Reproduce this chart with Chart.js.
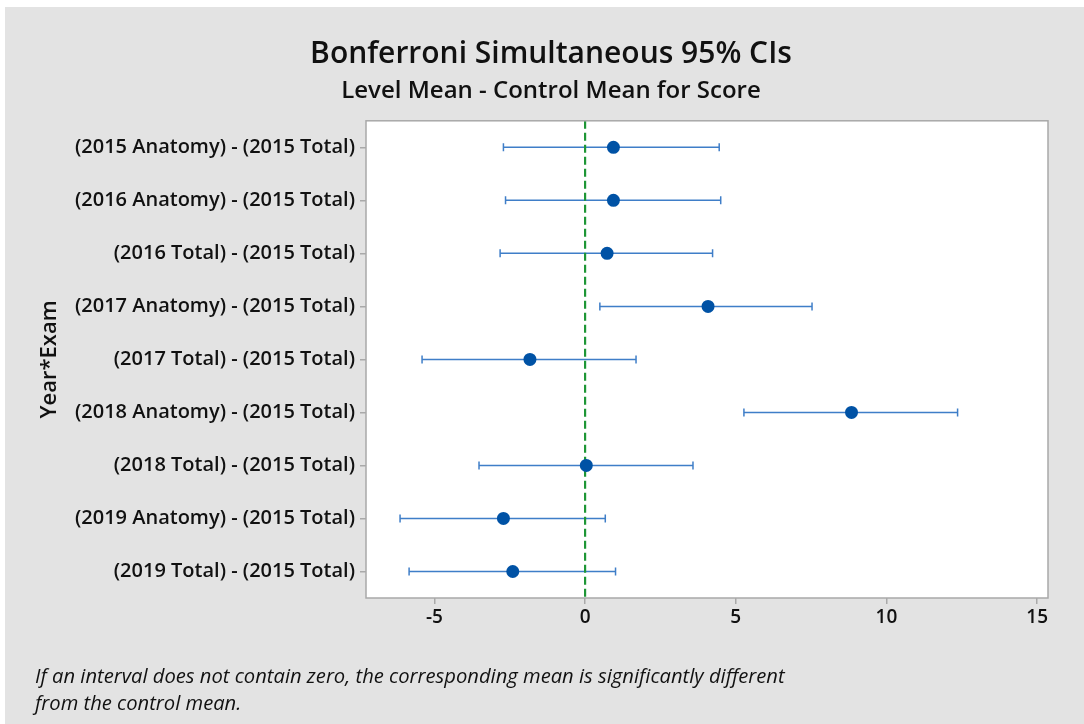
<!DOCTYPE html>
<html>
<head>
<meta charset="utf-8">
<script src="https://cdn.jsdelivr.net/npm/chart.js@4"></script>
<style>
    html, body { margin: 0; padding: 0; background: #ffffff; }
    #panel {
        position: absolute; left: 5px; top: 7px; width: 1079px; height: 717px;
        background: #e3e3e3;
    }
    #wrap { position: absolute; left: 0; top: 0; width: 1084px; height: 724px; }
    #note {
        position: absolute; left: 35px; top: 662px;
        font-family: "Open Sans", sans-serif; font-style: italic; font-size: 20.2px;
        line-height: 27px; color: #111;
    }
</style>
</head>
<body>
<div id="panel"></div>
<div id="wrap"><canvas id="ciChart" width="1084" height="724"></canvas></div>
<div id="note">If an interval does not contain zero, the corresponding mean is significantly different<br>from the control mean.</div>
<script>
// Bonferroni simultaneous CIs: level mean - control mean

const comparisons = [
    '(2015 Anatomy) - (2015 Total)',
    '(2016 Anatomy) - (2015 Total)',
    '(2016 Total) - (2015 Total)',
    '(2017 Anatomy) - (2015 Total)',
    '(2017 Total) - (2015 Total)',
    '(2018 Anatomy) - (2015 Total)',
    '(2018 Total) - (2015 Total)',
    '(2019 Anatomy) - (2015 Total)',
    '(2019 Total) - (2015 Total)'
];
const estimate = [0.94, 0.94, 0.73, 4.08, -1.83, 8.84, 0.04, -2.71, -2.40];
const lower = [-2.71, -2.64, -2.82, 0.49, -5.41, 5.27, -3.52, -6.14, -5.84];
const upper = [4.45, 4.50, 4.23, 7.53, 1.69, 12.36, 3.58, 0.67, 1.01];
const xTicks = [-5, 0, 5, 10, 15];

const colors = {
    interval: '#3f7ec8',
    point: '#0052a5',
    zero: '#1e9636',
    frame: '#a9a9a9',
    text: '#111111'
};

const FONT = '"Open Sans", "Noto Sans", sans-serif';

// white plot area + frame around it
const plotFrame = {
    id: 'plotFrame',
    beforeDraw(chart) {
        const a = chart.chartArea, c = chart.ctx;
        c.save();
        c.fillStyle = '#ffffff';
        c.fillRect(a.left, a.top, a.right - a.left, a.bottom - a.top);
        c.restore();
    },
    afterDraw(chart) {
        const a = chart.chartArea, c = chart.ctx;
        c.save();
        c.strokeStyle = colors.frame;
        c.lineWidth = 1.5;
        c.strokeRect(a.left, a.top, a.right - a.left, a.bottom - a.top);
        c.restore();
    }
};

const datasets = [];

// interval lines with end caps
comparisons.forEach((name, i) => {
    datasets.push({
        label: name,
        data: [{ x: lower[i], y: i }, { x: upper[i], y: i }],
        showLine: true,
        borderColor: colors.interval,
        borderWidth: 1.5,
        pointStyle: 'line',
        pointRotation: 90,
        pointRadius: 4,
        pointBorderColor: colors.interval,
        pointBorderWidth: 1.5,
        order: 3
    });
});

// zero reference line
datasets.push({
    label: 'zero',
    data: [{ x: 0, y: -0.5 }, { x: 0, y: comparisons.length - 0.5 }],
    showLine: true,
    borderColor: colors.zero,
    borderWidth: 2.2,
    borderDash: [8, 4],
    pointRadius: 0,
    order: 2
});

// point estimates
datasets.push({
    label: 'estimate',
    data: estimate.map((v, i) => ({ x: v, y: i })),
    pointRadius: 6.5,
    pointBackgroundColor: colors.point,
    pointBorderColor: colors.point,
    pointBorderWidth: 0,
    order: 1
});

new Chart(document.getElementById('ciChart'), {
    type: 'scatter',
    data: { datasets: datasets },
    plugins: [plotFrame],
    options: {
        responsive: false,
        animation: false,
        events: [],
        // left padding is wider so the titles centre where the original does
        layout: { padding: { left: 54, top: 7, right: 36, bottom: 86 } },
        plugins: {
            legend: { display: false },
            tooltip: { enabled: false },
            title: {
                display: true,
                text: 'Bonferroni Simultaneous 95% CIs',
                color: colors.text,
                font: { family: FONT, size: 30, weight: '600' },
                padding: { top: 29, bottom: 5 }
            },
            subtitle: {
                display: true,
                text: 'Level Mean - Control Mean for Score',
                color: colors.text,
                font: { family: FONT, size: 24, weight: '600' },
                padding: { top: 0, bottom: 15 }
            }
        },
        scales: {
            x: {
                type: 'linear',
                min: -7.27,
                max: 15.36,
                afterBuildTicks: scale => { scale.ticks = xTicks.map(v => ({ value: v })); },
                afterFit: scale => { scale.height = 40; },
                border: { display: false },
                grid: { drawOnChartArea: false, drawTicks: true, tickLength: 6, color: colors.frame, lineWidth: 1.5 },
                ticks: { color: colors.text, padding: 2, font: { family: FONT, size: 19, weight: '600' } }
            },
            y: {
                type: 'linear',
                reverse: true,
                min: -0.5,
                max: comparisons.length - 0.5,
                afterBuildTicks: scale => { scale.ticks = comparisons.map((_, i) => ({ value: i })); },
                afterFit: scale => { scale.width = 312; },
                border: { display: false },
                grid: { drawOnChartArea: false, drawTicks: true, tickLength: 6, color: colors.frame, lineWidth: 1.5 },
                ticks: {
                    color: colors.text,
                    padding: 5,
                    font: { family: FONT, size: 20, weight: '600' },
                    callback: value => comparisons[value]
                },
                title: {
                    display: true,
                    text: 'Year*Exam',
                    color: colors.text,
                    font: { family: FONT, size: 22, weight: '600' },
                    padding: { top: -17 }
                }
            }
        }
    }
});
</script>
</body>
</html>
